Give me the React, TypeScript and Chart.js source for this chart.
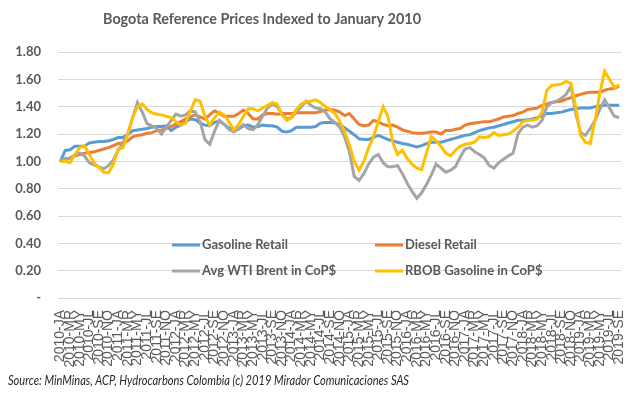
import React, { useEffect, useRef } from "react";
import { Chart, registerables } from "chart.js";

Chart.register(...registerables);

const titleText = "Bogota Reference Prices Indexed to January 2010";
const sourceText = "Source: MinMinas, ACP, Hydrocarbons Colombia (c) 2019 Mirador Comunicaciones SAS";

const years = [2010, 2011, 2012, 2013, 2014, 2015, 2016, 2017, 2018, 2019];
const monthCodes = ["JA", "FE", "MR", "AP", "MY", "JN", "JL", "AU", "SE", "OC", "NO", "DE"];
const monthCount = 117;
const categories: string[] = years
  .flatMap((y) => monthCodes.map((m) => `${y}-${m}`))
  .slice(0, monthCount);

const yTicks = [0, 0.2, 0.4, 0.6, 0.8, 1.0, 1.2, 1.4, 1.6, 1.8];

const gasolineRetail = [
  1.0, 1.08, 1.085, 1.11, 1.11, 1.11, 1.135, 1.14, 1.145, 1.145, 1.15, 1.16,
  1.175, 1.175, 1.195, 1.225, 1.23, 1.235, 1.24, 1.25, 1.255, 1.255, 1.26, 1.225,
  1.25, 1.265, 1.29, 1.31, 1.305, 1.28, 1.265, 1.26, 1.285, 1.295, 1.27, 1.245,
  1.225, 1.235, 1.26, 1.265, 1.25, 1.255, 1.265, 1.26, 1.26, 1.25, 1.22, 1.215,
  1.225, 1.25, 1.25, 1.25, 1.25, 1.255, 1.28, 1.285, 1.285, 1.28, 1.265, 1.245,
  1.22, 1.195, 1.165, 1.16, 1.16, 1.175, 1.19, 1.175, 1.16, 1.15, 1.14, 1.13,
  1.125, 1.115, 1.105, 1.115, 1.13, 1.14, 1.14, 1.14, 1.15, 1.16, 1.17, 1.18,
  1.19, 1.195, 1.21, 1.225, 1.235, 1.245, 1.25, 1.26, 1.27, 1.28, 1.29, 1.3,
  1.3, 1.305, 1.31, 1.32, 1.335, 1.35, 1.35, 1.355, 1.36, 1.37, 1.38, 1.385,
  1.39, 1.39, 1.39, 1.4, 1.405, 1.41, 1.41, 1.41, 1.41,
];

const dieselRetail = [
  1.0, 1.01, 1.025, 1.04, 1.05, 1.06, 1.065, 1.07, 1.08, 1.09, 1.1, 1.115,
  1.13, 1.135, 1.15, 1.18, 1.19, 1.195, 1.205, 1.21, 1.225, 1.23, 1.24, 1.255,
  1.275, 1.29, 1.31, 1.325, 1.34, 1.325, 1.31, 1.34, 1.37, 1.35, 1.33, 1.33,
  1.33, 1.35, 1.375, 1.35, 1.31, 1.31, 1.34, 1.35, 1.35, 1.345, 1.35, 1.35,
  1.35, 1.355, 1.355, 1.355, 1.355, 1.355, 1.365, 1.375, 1.38, 1.375, 1.36, 1.335,
  1.35, 1.31, 1.27, 1.26, 1.265, 1.3, 1.29, 1.27, 1.26, 1.265, 1.25, 1.23,
  1.22, 1.21, 1.205, 1.205, 1.21, 1.215, 1.215, 1.2, 1.225, 1.225, 1.235, 1.24,
  1.265, 1.275, 1.28, 1.285, 1.29, 1.29, 1.3, 1.31, 1.325, 1.33, 1.335, 1.35,
  1.36, 1.38, 1.385, 1.39, 1.41, 1.42, 1.43, 1.435, 1.44, 1.455, 1.465, 1.48,
  1.49, 1.5, 1.505, 1.505, 1.505, 1.52, 1.53, 1.535, 1.55,
];

const avgWtiBrent = [
  1.0, 1.02, 1.02, 1.05, 1.06, 1.04, 0.99, 0.975, 0.96, 0.945, 0.97, 1.01,
  1.08, 1.14, 1.2, 1.32, 1.43, 1.36, 1.275, 1.26, 1.24, 1.2, 1.25, 1.3,
  1.345, 1.33, 1.34, 1.37, 1.36, 1.29, 1.16, 1.125, 1.22, 1.3, 1.27, 1.235,
  1.215, 1.24, 1.27, 1.24, 1.23, 1.27, 1.33, 1.39, 1.42, 1.4, 1.35, 1.31,
  1.32, 1.36, 1.4, 1.44, 1.41, 1.39, 1.385, 1.36, 1.31, 1.285, 1.25, 1.18,
  1.07, 0.89, 0.86, 0.91, 0.98, 1.03, 1.05, 0.99, 0.96, 0.96, 0.97, 0.91,
  0.84, 0.78, 0.73, 0.77, 0.83, 0.9, 0.98, 0.95, 0.92, 0.935, 0.96, 1.03,
  1.09, 1.1, 1.07, 1.05, 1.025, 0.97, 0.95, 0.99, 1.015, 1.04, 1.06, 1.2,
  1.25, 1.265, 1.25, 1.26, 1.3, 1.4, 1.43, 1.44, 1.46, 1.49, 1.55, 1.35,
  1.21, 1.19, 1.24, 1.3, 1.38, 1.45, 1.39, 1.33, 1.32,
];

const rbobGasoline = [
  1.0, 1.0, 0.99, 1.05, 1.1, 1.115, 1.05, 0.99, 0.955, 0.92, 0.915, 0.98,
  1.09, 1.1, 1.2, 1.32, 1.4, 1.42, 1.38, 1.355, 1.345, 1.34, 1.33, 1.32,
  1.29, 1.265, 1.28, 1.37, 1.45, 1.44, 1.33, 1.265, 1.32, 1.36, 1.34, 1.29,
  1.23, 1.27, 1.33, 1.385, 1.385, 1.37, 1.39, 1.41, 1.43, 1.42, 1.34, 1.3,
  1.32, 1.38, 1.42, 1.435, 1.44, 1.45, 1.43, 1.4, 1.38, 1.35, 1.29, 1.22,
  1.12, 1.0, 0.935, 1.0, 1.1, 1.18, 1.29, 1.4, 1.33, 1.14, 1.05, 1.08,
  1.02, 0.98, 0.95, 0.94, 1.06, 1.18, 1.15, 1.11, 1.06, 1.04, 1.08, 1.11,
  1.125, 1.13, 1.14, 1.18, 1.175, 1.18, 1.21, 1.19, 1.195, 1.2, 1.22, 1.25,
  1.29, 1.3, 1.3, 1.31, 1.36, 1.52, 1.555, 1.56, 1.565, 1.585, 1.57, 1.4,
  1.19, 1.14, 1.13, 1.3, 1.5, 1.66, 1.6, 1.54, 1.56,
];

const seriesLabels = ["Gasoline Retail", "Diesel Retail", "Avg WTI Brent in CoP$", "RBOB Gasoline in CoP$"];
const seriesColors = ["#5B9BD5", "#ED7D31", "#A5A5A5", "#FFC000"];

const calibriLike = "Lato, 'Open Sans', sans-serif";

const textPlugin = {
  id: "customTexts",
  afterDraw(chart: any) {
    const ctx = chart.ctx as CanvasRenderingContext2D;
    ctx.save();
    // title
    ctx.fillStyle = "#595959";
    ctx.font = `bold 16px ${calibriLike}`;
    ctx.textBaseline = "middle";
    ctx.textAlign = "left";
    ctx.fillText(titleText, 103, 19, 318);

    // legend (inside plot area, 2x2)
    const cols = [172, 375];
    const rows = [245, 271];
    ctx.font = `bold 13px ${calibriLike}`;
    for (let i = 0; i < seriesLabels.length; i++) {
      const x = cols[i % 2];
      const y = rows[Math.floor(i / 2)];
      ctx.strokeStyle = seriesColors[i];
      ctx.lineWidth = 3;
      ctx.beginPath();
      ctx.moveTo(x, y);
      ctx.lineTo(x + 28, y);
      ctx.stroke();
      ctx.fillStyle = "#595959";
      ctx.fillText(seriesLabels[i], x + 30, y);
    }

    // source
    ctx.fillStyle = "#262626";
    ctx.font = `italic 13px ${calibriLike}`;
    ctx.fillText(sourceText, 8, 381, 401);
    ctx.restore();
  },
};

export default function App() {
  const canvasRef = useRef<HTMLCanvasElement | null>(null);

  useEffect(() => {
    if (!canvasRef.current) return;
    const data = [gasolineRetail, dieselRetail, avgWtiBrent, rbobGasoline];
    const chart = new Chart(canvasRef.current, {
      type: "line",
      data: {
        labels: categories,
        datasets: data.map((d, i) => ({
          label: seriesLabels[i],
          data: d,
          borderColor: seriesColors[i],
          backgroundColor: seriesColors[i],
          borderWidth: 3,
          pointRadius: 0,
          tension: 0,
          fill: false,
          order: 3 - i,
        })),
      },
      options: {
        animation: false,
        responsive: false,
        devicePixelRatio: 1,
        layout: { padding: { top: 52, right: 18, bottom: 27, left: 0 } },
        plugins: {
          legend: { display: false },
          title: { display: false },
          tooltip: { enabled: false },
        },
        scales: {
          x: {
            offset: true,
            grid: { display: false },
            border: { display: false },
            ticks: {
              autoSkip: false,
              maxRotation: 90,
              minRotation: 90,
              padding: 4,
              color: "#595959",
              font: { family: "'Liberation Sans', Arial, sans-serif", size: 14 },
              callback: (_v: any, index: number) => (index % 2 === 0 ? categories[index] : ""),
            },
            afterFit: (scale: any) => {
              scale.height = 70;
            },
          },
          y: {
            min: 0,
            max: 1.8,
            afterBuildTicks: (scale: any) => {
              scale.ticks = yTicks.map((v) => ({ value: v }));
            },
            grid: { color: "#D9D9D9", lineWidth: 1, drawTicks: false },
            border: { display: false },
            ticks: {
              padding: 17,
              color: "#595959",
              font: { family: calibriLike, size: 13, weight: "bold" },
              callback: (v: any) => (Number(v) === 0 ? "-" : Number(v).toFixed(2)),
            },
            afterFit: (scale: any) => {
              scale.width = 58;
            },
          },
        },
      },
      plugins: [textPlugin],
    });
    return () => chart.destroy();
  }, []);

  return (
    <div style={{ position: "absolute", left: 0, top: 0, width: 640, height: 395, background: "#fff" }}>
      <canvas ref={canvasRef} width={640} height={395} />
    </div>
  );
}
